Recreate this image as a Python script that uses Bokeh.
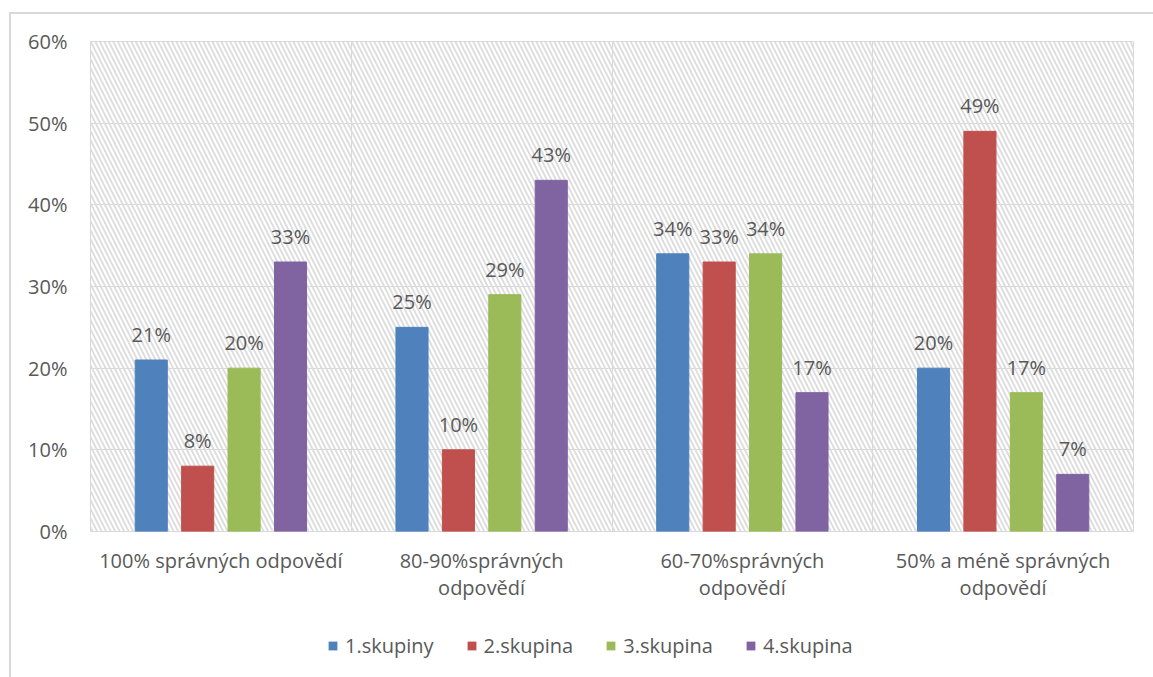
from bokeh.plotting import figure
from bokeh.layouts import column
from bokeh.models import FixedTicker, PrintfTickFormatter, Legend, LegendItem, BoxAnnotation
from bokeh.embed import file_html
from bokeh.resources import INLINE
from bokeh.core.properties import value

# Data
categories = [
    "100% správných odpovědí",
    "80-90%správných\nodpovědí",
    "60-70%správných\nodpovědí",
    "50% a méně správných\nodpovědí",
]
series_names = ["1.skupiny", "2.skupina", "3.skupina", "4.skupina"]
skupina1 = [21, 25, 34, 20]
skupina2 = [8, 10, 33, 49]
skupina3 = [20, 29, 34, 17]
skupina4 = [33, 43, 17, 7]
y_ticks = [0, 10, 20, 30, 40, 50, 60]

series = [skupina1, skupina2, skupina3, skupina4]
colors = ["#4F81BD", "#C0504D", "#9BBB59", "#8064A2"]
FONT = "Open Sans"
TEXT_COLOR = "#595959"
GRID_COLOR = "#d9d9d9"

W = 1142
H_MAIN = 590
H_LEG = 73
BORDER_L, BORDER_R = 79, 20

p = figure(
    width=W, height=H_MAIN,
    x_range=(0, len(categories)), y_range=(0, 60),
    output_backend="svg", toolbar_location=None,
    min_border_left=BORDER_L, min_border_top=27,
    min_border_right=BORDER_R, min_border_bottom=71,
)
p.outline_line_color = GRID_COLOR
p.outline_line_width = 1

# hatched plot area background
p.add_layout(BoxAnnotation(
    fill_alpha=0, line_alpha=0,
    hatch_pattern="\\", hatch_color="#dcdcdc", hatch_scale=9, hatch_weight=1.8,
    level="underlay",
))

# grids
p.xgrid.ticker = FixedTicker(ticks=list(range(1, len(categories))))
p.xgrid.grid_line_color = GRID_COLOR
p.ygrid.ticker = FixedTicker(ticks=y_ticks[1:])
p.ygrid.grid_line_color = GRID_COLOR

# axes
p.yaxis.ticker = FixedTicker(ticks=y_ticks)
p.yaxis.formatter = PrintfTickFormatter(format="%d%%")
p.xaxis.ticker = FixedTicker(ticks=[i + 0.5 for i in range(len(categories))])
p.xaxis.major_label_overrides = {i + 0.5: c for i, c in enumerate(categories)}
for ax in (p.xaxis, p.yaxis):
    ax.axis_line_color = None
    ax.major_tick_line_color = None
    ax.minor_tick_line_color = None
    ax.major_label_text_font = FONT
    ax.major_label_text_font_size = "20px"
    ax.major_label_text_color = TEXT_COLOR
p.yaxis.major_label_standoff = 17
p.xaxis.major_label_standoff = 9
p.xaxis.major_label_text_line_height = 1.03

# bars and value labels
step = 0.178
bar_w = 0.123
for j, (vals, col) in enumerate(zip(series, colors)):
    xs = [i + 0.5 + (j - 1.5) * step for i in range(len(categories))]
    p.vbar(x=xs, top=vals, bottom=0, width=bar_w, fill_color=col, line_color=col)
    p.text(x=xs, y=vals, text=[f"{v}%" for v in vals],
           text_align="center", text_baseline="bottom", y_offset=-12,
           text_font=value(FONT), text_font_size="20px", text_color=TEXT_COLOR)

# legend strip below the chart
leg = figure(
    width=W, height=H_LEG, x_range=(0, 1), y_range=(0, 1),
    output_backend="svg", toolbar_location=None,
    x_axis_location=None, y_axis_location=None,
    min_border_left=BORDER_L, min_border_right=BORDER_R,
    min_border_top=0, min_border_bottom=0,
)
leg.outline_line_color = None
leg.xgrid.visible = False
leg.ygrid.visible = False
items = []
for name, col in zip(series_names, colors):
    # zero-area swatch renderer: only its legend entry is visible
    r = leg.vbar(x=[0.5], top=[0], bottom=[0], width=0, fill_color=col, line_color=None)
    items.append(LegendItem(label=name, renderers=[r]))
legend = Legend(
    items=items, orientation="horizontal", location=(237, 18),
    glyph_width=11, glyph_height=11, label_standoff=7, spacing=32,
    padding=0, margin=0, label_height=20,
    label_text_font=FONT, label_text_font_size="20px", label_text_color=TEXT_COLOR,
    border_line_color=None, background_fill_alpha=0,
)
leg.add_layout(legend, "center")

layout = column(p, leg, spacing=0)
layout.styles = {
    "margin-left": "9px", "margin-top": "12px",
    "border-left": "2px solid #d9d9d9", "border-top": "2px solid #d9d9d9",
}

open("out.html", "w").write(file_html(layout, INLINE))
